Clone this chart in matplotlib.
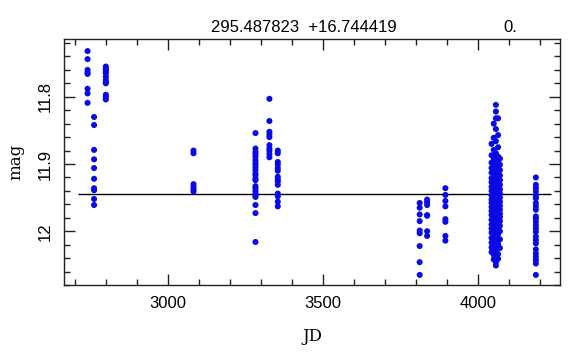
import matplotlib.pyplot as plt
from matplotlib.ticker import MultipleLocator, FuncFormatter

# light curve groups: (JD, list of mags)
jd_groups = [2740, 2761, 2799, 3082, 3282, 3327, 3354, 3812, 3836, 3895,
             4044, 4051, 4058, 4065, 4071, 4187]
mag_groups = [
    [11.732, 11.744, 11.760, 11.764, 11.766, 11.788, 11.795, 11.809],
    [11.830, 11.842, 11.879, 11.893, 11.906, 11.922, 11.936, 11.939, 11.952, 11.961],
    [11.755, 11.758, 11.760, 11.763, 11.765, 11.770, 11.775, 11.778, 11.780,
     11.797, 11.800, 11.804],
    [11.880, 11.884, 11.930, 11.934, 11.938, 11.941],
    [11.854, 11.877, 11.882, 11.885, 11.889, 11.894, 11.898, 11.901, 11.905,
     11.909, 11.914, 11.917, 11.922, 11.924, 11.933, 11.936, 11.940, 11.944,
     11.947, 11.949, 11.961, 11.973, 12.016],
    [11.803, 11.836, 11.852, 11.856, 11.860, 11.872, 11.877, 11.880, 11.885, 11.890],
    [11.880, 11.884, 11.897, 11.901, 11.906, 11.910, 11.919, 11.923, 11.926,
     11.931, 11.944, 11.948, 11.956, 11.963],
    [11.958, 11.965, 11.975, 11.985, 11.999, 12.003, 12.022, 12.046, 12.065],
    [11.953, 11.957, 11.961, 11.976, 11.977, 12.000, 12.007],
    [11.936, 11.946, 11.955, 11.963, 11.982, 11.986, 12.007, 12.014],
    [11.870, 11.887, 11.898, 11.906, 11.913, 11.921, 11.927, 11.934, 11.940,
     11.947, 11.953, 11.958, 11.964, 11.970, 11.976, 11.983, 11.990, 11.996,
     12.002, 12.010, 12.017, 12.024, 12.031],
    [11.840, 11.861, 11.879, 11.892, 11.900, 11.908, 11.915, 11.922, 11.929,
     11.936, 11.942, 11.949, 11.955, 11.961, 11.967, 11.973, 11.980, 11.986,
     11.993, 11.999, 12.006, 12.013, 12.020, 12.027, 12.035, 12.042],
    [11.812, 11.822, 11.832, 11.848, 11.866, 11.884, 11.895, 11.903, 11.911,
     11.918, 11.925, 11.932, 11.938, 11.945, 11.951, 11.957, 11.963, 11.969,
     11.975, 11.982, 11.988, 11.995, 12.001, 12.008, 12.015, 12.022, 12.030,
     12.038, 12.046, 12.051],
    [11.832, 11.857, 11.875, 11.889, 11.897, 11.905, 11.912, 11.919, 11.926,
     11.933, 11.939, 11.946, 11.952, 11.959, 11.965, 11.971, 11.978, 11.984,
     11.991, 11.997, 12.004, 12.011, 12.019, 12.026, 12.034, 12.041],
    [11.892, 11.901, 11.909, 11.917, 11.924, 11.931, 11.938, 11.944, 11.950,
     11.956, 11.962, 11.968, 11.974, 11.979, 11.985, 11.992, 12.000, 12.012, 12.025],
    [11.920, 11.931, 11.936, 11.941, 11.948, 11.951, 11.958, 11.963, 11.968,
     11.978, 11.981, 11.986, 11.991, 11.996, 12.001, 12.008, 12.013, 12.018,
     12.027, 12.033, 12.038, 12.043, 12.048, 12.065],
]
mean_mag = 11.945
mean_span = (2710, 4235)
title_coords = "295.487823  +16.744419"
title_period = "0."

jd = []
mag = []
for t, ms in zip(jd_groups, mag_groups):
    jd += [t] * len(ms)
    mag += ms

fig = plt.figure(figsize=(5.7, 3.6), dpi=100)
ax = fig.add_axes([0.1123, 0.2083, 0.8702, 0.6834])

ax.scatter(jd, mag, s=19, color='#0a0ae6', edgecolors='none', zorder=3)
ax.hlines(mean_mag, mean_span[0], mean_span[1], color='black', linewidth=1, zorder=2)

ax.set_xlim(2664, 4265)
ax.set_ylim(12.080, 11.714)

ax.xaxis.set_major_locator(MultipleLocator(500))
ax.xaxis.set_minor_locator(MultipleLocator(100))
ax.yaxis.set_major_locator(MultipleLocator(0.1))
ax.yaxis.set_minor_locator(MultipleLocator(0.02))
ax.yaxis.set_major_formatter(FuncFormatter(lambda v, p: '%g' % round(v, 3)))

ax.tick_params(which='both', direction='in', top=True, right=True, width=1, color='#222222')
ax.tick_params(which='major', length=8, labelsize=12, pad=8)
ax.tick_params(which='minor', length=4)
for lab in ax.get_xticklabels() + ax.get_yticklabels():
    lab.set_family('Liberation Sans')
for lab in ax.get_yticklabels():
    lab.set_rotation(90)
    lab.set_va('center')
for sp in ax.spines.values():
    sp.set_linewidth(1)
    sp.set_color('#222222')

ax.set_xlabel('JD', family='DejaVu Serif', fontsize=12, labelpad=12)
ax.set_ylabel('mag', family='DejaVu Serif', fontsize=12, labelpad=10)

fig.text(304 / 570, 1 - 28 / 360, title_coords, ha='center', va='center',
         fontsize=12, family='Liberation Sans')
fig.text(510 / 570, 1 - 28 / 360, title_period, ha='center', va='center',
         fontsize=12, family='Liberation Sans')

fig.savefig('out.png', dpi=100)
